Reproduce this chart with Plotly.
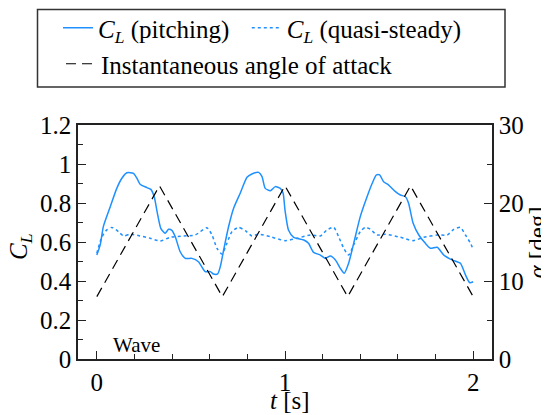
import plotly.graph_objects as go

# ---- data ----
t_pitch = [0, 0.018, 0.035, 0.071, 0.106, 0.133, 0.16, 0.195, 0.213, 0.23, 0.266, 0.287,
           0.305, 0.322, 0.34, 0.363, 0.381, 0.399, 0.417, 0.443, 0.47, 0.505, 0.54, 0.576,
           0.603, 0.62, 0.642, 0.656, 0.674, 0.7, 0.727, 0.762, 0.798, 0.824, 0.86, 0.878,
           0.895, 0.922, 0.948, 0.975, 0.99, 1.0, 1.019, 1.046, 1.1, 1.125, 1.152, 1.188,
           1.214, 1.241, 1.268, 1.294, 1.315, 1.338, 1.365, 1.4, 1.436, 1.463, 1.486, 1.503,
           1.524, 1.551, 1.587, 1.613, 1.64, 1.657, 1.681, 1.711, 1.746, 1.773, 1.809, 1.844,
           1.888, 1.932, 1.959, 1.982, 2.0]
cl_pitch = [0.533, 0.585, 0.68, 0.78, 0.875, 0.927, 0.955, 0.952, 0.927, 0.896, 0.879, 0.87,
            0.832, 0.747, 0.67, 0.645, 0.665, 0.66, 0.627, 0.55, 0.516, 0.516, 0.499, 0.448,
            0.448, 0.436, 0.436, 0.473, 0.559, 0.678, 0.773, 0.85, 0.932, 0.949, 0.957, 0.935,
            0.875, 0.863, 0.884, 0.875, 0.85, 0.764, 0.66, 0.624, 0.61, 0.593, 0.547, 0.533,
            0.516, 0.528, 0.508, 0.465, 0.44, 0.491, 0.593, 0.73, 0.832, 0.9, 0.944, 0.944,
            0.909, 0.892, 0.858, 0.841, 0.832, 0.798, 0.696, 0.636, 0.593, 0.568, 0.573, 0.533,
            0.508, 0.491, 0.431, 0.391, 0.396]

t_qs = [0, 0.027, 0.053, 0.08, 0.115, 0.142, 0.177, 0.23, 0.284, 0.337, 0.39, 0.461, 0.523,
        0.585, 0.612, 0.638, 0.665, 0.691, 0.718, 0.753, 0.789, 0.824, 0.86, 0.922, 1.0,
        1.064, 1.135, 1.188, 1.223, 1.259, 1.285, 1.312, 1.338, 1.365, 1.4, 1.427, 1.454,
        1.489, 1.533, 1.613, 1.681, 1.737, 1.809, 1.862, 1.897, 1.932, 1.959, 1.986, 2.0]
cl_qs = [0.542, 0.627, 0.662, 0.675, 0.653, 0.631, 0.64, 0.631, 0.619, 0.605, 0.624, 0.631,
         0.636, 0.673, 0.636, 0.568, 0.538, 0.593, 0.653, 0.675, 0.658, 0.631, 0.64, 0.627,
         0.607, 0.619, 0.636, 0.631, 0.662, 0.675, 0.627, 0.568, 0.533, 0.585, 0.653, 0.675,
         0.665, 0.636, 0.64, 0.624, 0.607, 0.624, 0.636, 0.636, 0.665, 0.675, 0.636, 0.593,
         0.562]

t_alpha = [0, 0.333, 0.667, 1.0, 1.333, 1.667, 2.0]
alpha_deg = [8, 22.2, 8, 22.2, 8, 22.2, 8]

x_ticks = [0, 1, 2]
y_ticks = [0, 0.2, 0.4, 0.6, 0.8, 1, 1.2]
y2_ticks = [0, 10, 20, 30]

names = ["<i>C</i><sub><i>L</i></sub> (pitching)\u00a0\u00a0",
         "<i>C</i><sub><i>L</i></sub> (quasi-steady)",
         "Instantaneous angle of attack"]
x_title = "<i>t</i> [s]"
y_title = "<i>C</i><sub><i>L</i></sub>"
y2_title = "<i>α</i> [deg]"
note = "Wave"

BLUE = "#1e90ff"
FONT = "Liberation Serif, Times New Roman, serif"
AX = "#222222"

fig = go.Figure()
fig.add_trace(go.Scatter(x=t_pitch, y=cl_pitch, mode="lines", name=names[0], legend="legend",
                         line=dict(color=BLUE, width=1.5, shape="spline", smoothing=0.6)))
fig.add_trace(go.Scatter(x=t_qs, y=cl_qs, mode="lines", name=names[1], legend="legend",
                         line=dict(color=BLUE, width=1.5, dash="dot", shape="spline", smoothing=0.6)))
fig.add_trace(go.Scatter(x=t_alpha, y=alpha_deg, mode="lines", name=names[2], yaxis="y2",
                         legend="legend2",
                         line=dict(color="black", width=1.2, dash="10px,6px")))

# page body has an 8px margin, so the figure is 8px smaller than the window
OFF = 8
W, H = 549 - OFF, 415 - OFF
L, R, T, B = 70, 57, 117, 56
pw, ph = W - L - R, H - T - B


def px(xs):
    """screen x -> paper x"""
    return (xs - OFF - L) / pw


def py(ys):
    """screen y -> paper y"""
    return (H - B - (ys - OFF)) / ph


leg_common = dict(orientation="h", xanchor="left", yanchor="top",
                  bgcolor="rgba(0,0,0,0)", borderwidth=0,
                  font=dict(family=FONT, size=25), itemwidth=30, traceorder="normal")

fig.update_layout(
    width=W, height=H,
    margin=dict(l=L, r=R, t=T, b=B, autoexpand=False),
    paper_bgcolor="white", plot_bgcolor="white",
    font=dict(family=FONT, size=25, color="black"),
    showlegend=True,
    legend=dict(x=px(58), y=py(5), **leg_common),
    legend2=dict(x=px(61), y=py(41), **leg_common),
    xaxis=dict(range=[-0.1, 2.1], tickvals=x_ticks, ticks="inside", ticklen=8, tickwidth=1.2,
               tickcolor=AX, showline=True, linecolor=AX, linewidth=1.5, mirror=True,
               showgrid=False, zeroline=False,
               minor=dict(dtick=0.2, tick0=0, ticks="inside", ticklen=5, tickwidth=1, tickcolor=AX)),
    yaxis=dict(range=[0, 1.2], tickvals=y_ticks, ticktext=[str(v) for v in y_ticks],
               ticks="inside", ticklen=8, tickwidth=1.2,
               tickcolor=AX, showline=True, linecolor=AX, linewidth=1.5,
               showgrid=False, zeroline=False,
               minor=dict(dtick=0.1, tick0=0, ticks="inside", ticklen=5, tickwidth=1, tickcolor=AX)),
    yaxis2=dict(range=[0, 30], tickvals=y2_ticks, overlaying="y", side="right",
                ticks="inside", ticklen=8, tickwidth=1.2, tickcolor=AX,
                showline=True, linecolor=AX, linewidth=1.5, showgrid=False, zeroline=False,
                minor=dict(dtick=5, tick0=0, ticks="inside", ticklen=5, tickwidth=1, tickcolor=AX)),
    shapes=[dict(type="rect", xref="paper", yref="paper",
                 x0=px(37.5), x1=px(505), y0=py(87), y1=py(9.5),
                 line=dict(color="#333333", width=1.5), fillcolor="rgba(0,0,0,0)")],
    annotations=[
        dict(text=note, x=0.075, y=0.072, xref="x", yref="y",
             xanchor="left", yanchor="middle", showarrow=False,
             font=dict(family=FONT, size=21, color="black")),
        dict(text=x_title, x=px(289.5), y=py(400.5), xref="paper", yref="paper",
             xanchor="center", yanchor="middle", showarrow=False,
             font=dict(family=FONT, size=25, color="black")),
        dict(text=y_title, x=px(20), y=py(247), xref="paper", yref="paper",
             xanchor="center", yanchor="middle", showarrow=False, textangle=-90,
             font=dict(family=FONT, size=25, color="black")),
        dict(text=y2_title, x=px(536.5), y=py(243), xref="paper", yref="paper",
             xanchor="center", yanchor="middle", showarrow=False, textangle=-90,
             font=dict(family=FONT, size=25, color="black")),
    ],
)

fig.write_html("out.html")
